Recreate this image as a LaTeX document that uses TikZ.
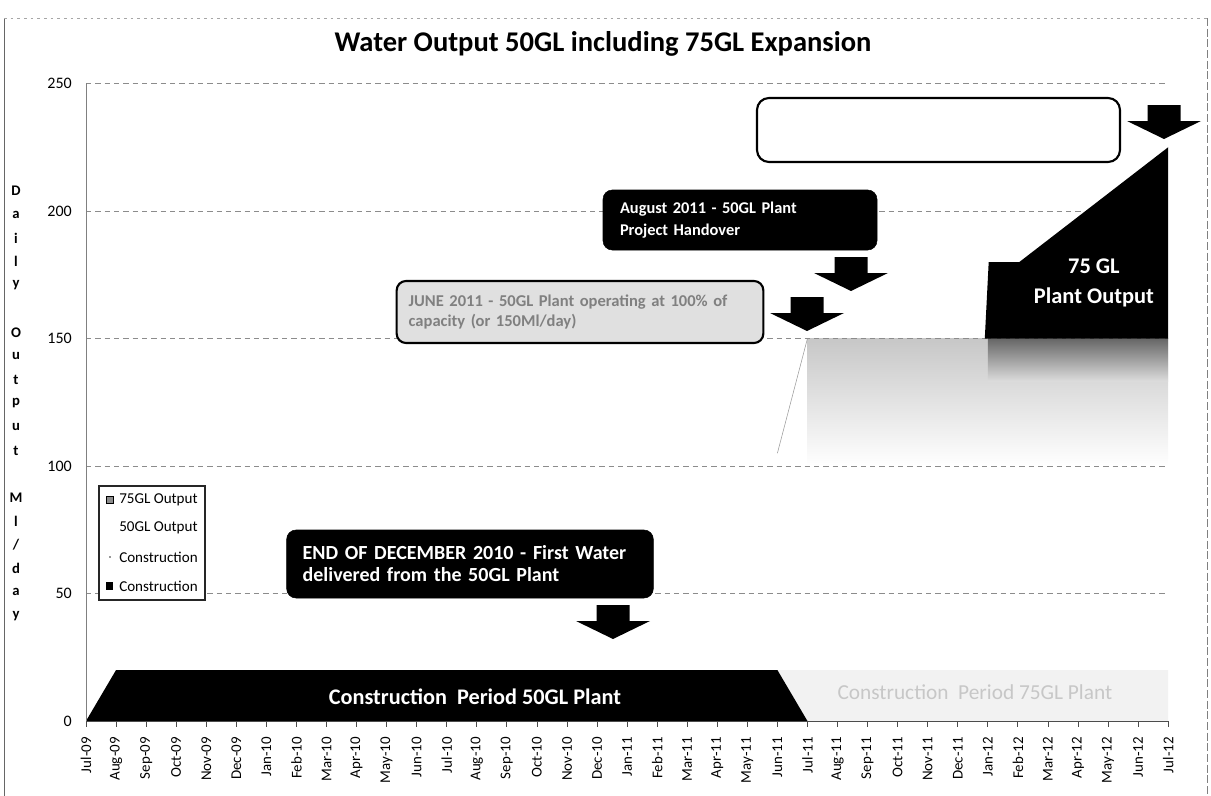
\documentclass[tikz,border=0pt]{standalone}
\usepackage{fontspec}
\setmainfont{Carlito}
\usepackage{tikz}
\usetikzlibrary{positioning, calc}
\tikzstyle{blackcallout} = [rectangle, rounded corners=7pt, draw=black, fill=black, text=white, align=left, inner ysep=0pt]
\tikzstyle{greycallout} = [rectangle, rounded corners=7pt, draw=black, line width=1.6pt, fill=black!12, text=black!50, align=left, inner ysep=0pt, font=\bfseries\fontsize{12.4}{15}\selectfont]
\tikzstyle{emptycallout} = [rectangle, rounded corners=9pt, draw=black, line width=1.6pt, fill=white]
\tikzstyle{grid} = [black!45, line width=0.5pt, dash pattern=on 4pt off 3pt]
\tikzstyle{xtick} = [rotate=90, anchor=east, inner sep=0pt, font=\fontsize{11.2}{12}\selectfont]
\tikzstyle{ytick} = [anchor=east, inner sep=0pt, font=\fontsize{12}{12}\selectfont]
\tikzstyle{ylab} = [inner sep=0pt, font=\bfseries\fontsize{11}{11}\selectfont]
\tikzstyle{legentry} = [anchor=west, inner sep=0pt, font=\fontsize{11.3}{12}\selectfont]
\newcommand{\blockarrow}[2]{\fill[black] (#1-16.5,#2) -- (#1+16.5,#2) -- (#1+16.5,#2+16) -- (#1+37,#2+16) -- (#1,#2+34) -- (#1-37,#2+16) -- (#1-16.5,#2+16) -- cycle;}

\begin{document}
\begin{tikzpicture}[x=0.75pt, y=-0.75pt]
\useasboundingbox (0,0) rectangle (1211,796);

% chart frame
\draw[black!60, line width=0.6pt] (4,796) -- (4,18);
\draw[black!35, dash pattern=on 2pt off 3pt] (4,18) -- (1207,18);
\draw[black!50, dash pattern=on 6pt off 2pt] (1207,18) -- (1207,796);

\node (title) [font=\bfseries\fontsize{21.4}{25}\selectfont] at (603,44) {Water Output 50GL including 75GL Expansion};

% vertical axis title
\foreach \c [count=\i from 0] in {D,a,i,l,y,{},O,u,t,p,u,t,{},M,l,/,d,a,y}
  \node (ytitle\i) [ylab] at (16,191+23.6*\i) {\c};

\begin{scope}[shift={(86,721)}, x=22.545pt, y=1.9125pt]
  % 50GL output
  \fill[top color=black!22, bottom color=white] (24,100) rectangle (36,150);
  \fill[top color=black!60, bottom color=black!13] (30,133) rectangle (36,150);
  \draw[black!40, line width=0.4pt] (23,105) -- (24,150);
  % grid
  \foreach \v in {50,100,...,250}
    \draw[grid] (0,\v) -- (36,\v);
  % construction 75GL
  \fill[black!5] (23,20) -- (36,20) -- (36,0) -- (24,0) -- cycle;
  \node (con75) [text=black!22, font=\fontsize{16}{16}\selectfont] at (29.57,11.4) {Construction\ \ Period 75GL Plant};
  % construction 50GL
  \fill[black] (0,0) -- (1,20) -- (23,20) -- (24,0) -- cycle;
  \node (con50) [text=white, font=\bfseries\fontsize{16.7}{16.7}\selectfont] at (12.94,9.4) {Construction\ \ Period 50GL Plant};
  % 75GL output
  \fill[black] (29.9,150) -- (30.03,180) -- (31.05,180) -- (36,225) -- (36,150) -- cycle;
  \node (out75) [text=white, align=center, font=\bfseries\fontsize{16.8}{22.5}\selectfont] at (33.53,171.8) {75 GL\\Plant Output};
  % axes
  \draw[black!50, line width=0.5pt] (0,0) -- (0,250);
  \draw[black!70, line width=0.6pt] (0,0) -- (36,0);
  \foreach \i in {0,...,36}
    \draw[black!70, line width=0.6pt] (\i,0) -- ++(0,-2.2);
  \foreach \m [count=\i from 0] in {Jul-09,Aug-09,Sep-09,Oct-09,Nov-09,Dec-09,Jan-10,Feb-10,Mar-10,Apr-10,May-10,Jun-10,Jul-10,Aug-10,Sep-10,Oct-10,Nov-10,Dec-10,Jan-11,Feb-11,Mar-11,Apr-11,May-11,Jun-11,Jul-11,Aug-11,Sep-11,Oct-11,Nov-11,Dec-11,Jan-12,Feb-12,Mar-12,Apr-12,May-12,Jun-12,Jul-12}
    \node (xlab\i) [xtick] at ([yshift=-12pt]\i,0) {\m};
  \foreach \v in {0,50,...,250}
    \node (ylab\v) [ytick] at ([xshift=-10.5pt]0,\v) {\v};
\end{scope}

% legend
\node (legend) [draw=black!85, line width=0.9pt, fill=white, minimum width=79.5pt, minimum height=85.5pt] at (152,543) {};
\node (leg75) [legentry] at (119,500) {75GL Output};
\node (leg50) [legentry] at (119,528) {50GL Output};
\node (legcona) [legentry] at (119,557) {Construction};
\node (legconb) [legentry] at (119,586) {Construction};
\node (mark75) [draw=black, line width=0.5pt, fill=black!45, minimum size=5pt, inner sep=0pt, left=4pt of leg75] {};
\node (markcona) [fill=black!40, minimum size=1.2pt, inner sep=0pt, left=6pt of legcona] {};
\node (markconb) [fill=black, minimum size=5.5pt, inner sep=0pt, left=4pt of legconb] {};

% callouts
\node (firstwater) [blackcallout, text width=251pt, inner xsep=12pt, minimum height=51pt, font=\bfseries\fontsize{15}{16.5}\selectfont] at (470,564) {END OF DECEMBER 2010 - First Water\\delivered from the 50GL Plant};
\node (fullcap) [greycallout, text width=257pt, inner xsep=9pt, minimum height=46.5pt] at (580,312) {JUNE 2011 - 50GL Plant operating at 100\% of\\capacity (or 150Ml/day)};
\node (handover) [blackcallout, text width=180pt, inner xsep=12.75pt, minimum height=45pt, font=\bfseries\fontsize{12.3}{16}\selectfont] at (740,220) {August 2011 - 50GL Plant\\Project Handover};
\node (blank) [emptycallout, minimum width=272.25pt, minimum height=48pt] at (938.5,130) {};

% block arrows
\blockarrow{613}{605}
\blockarrow{807}{297}
\blockarrow{851}{257}
\blockarrow{1164}{105}

\end{tikzpicture}
\end{document}
